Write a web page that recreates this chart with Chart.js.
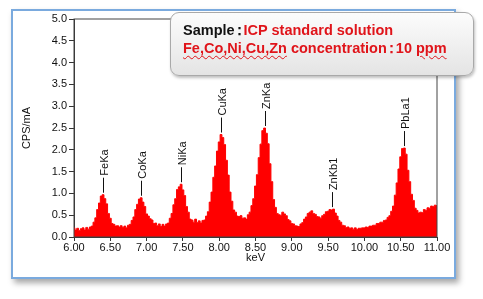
<!DOCTYPE html>
<html>
<head>
<meta charset="utf-8">
<script src="https://cdn.jsdelivr.net/npm/chart.js@4"></script>
<style>
  html, body { margin: 0; padding: 0; background: #fff; }
  body { width: 483px; height: 299px; position: relative; overflow: hidden; }
  #frame {
    position: absolute; left: 11px; top: 9px; width: 445px; height: 270px;
    box-sizing: border-box; border: 2px solid #7aaade; background: #fff;
    box-shadow: 3px 4px 6px rgba(0,0,0,0.35);
  }
  #spectrum { position: absolute; left: 0; top: 0; }
  #note {
    position: absolute; left: 170px; top: 12px; width: 304px; height: 64px;
    box-sizing: border-box; border: 1px solid #a9a9a9; border-radius: 9px;
    background: linear-gradient(#fcfcfc, #e4e4e4);
    box-shadow: 1px 2px 3px rgba(0,0,0,0.25);
    padding: 8px 0 0 12px;
    font: bold 14.5px "Liberation Sans", Arial, sans-serif; line-height: 18px;
    color: #e0141a; white-space: nowrap;
  }
  #note .blk { color: #111; }
  #note .col { margin: 0 -3px; }
  #note .wavy { text-decoration: underline wavy #e0141a; text-decoration-thickness: 1px; text-underline-offset: 2px; }
</style>
</head>
<body>
<div id="frame"></div>
<canvas id="spectrum" width="483" height="299"></canvas>
<div id="note">
  <div><span class="blk">Sample<span class="col">：</span></span>ICP standard solution</div>
  <div><span class="wavy">Fe,Co,Ni,Cu,Zn</span> concentration<span class="col">：</span>10 <span class="wavy">ppm</span></div>
</div>
<script>
// spectrum channels: 6.000 keV upward, 0.025 keV per channel
const channelStart = 6.0;
const channelWidth = 0.025;

// CPS/mA per channel, one row per 0.5 keV
const counts = [
  0.21, 0.16, 0.20, 0.15, 0.19, 0.21, 0.16, 0.22, 0.18, 0.23, 0.25, 0.34, 0.44, 0.63, 0.78, 0.94, 0.97, 0.88, 0.76, 0.54,
  0.43, 0.31, 0.29, 0.25, 0.26, 0.23, 0.26, 0.22, 0.25, 0.21, 0.27, 0.29, 0.38, 0.46, 0.63, 0.75, 0.87, 0.90, 0.80, 0.70,
  0.53, 0.48, 0.42, 0.39, 0.31, 0.32, 0.26, 0.30, 0.24, 0.29, 0.25, 0.30, 0.32, 0.43, 0.54, 0.74, 0.88, 1.09, 1.15, 1.21,
  1.08, 0.95, 0.70, 0.57, 0.41, 0.39, 0.34, 0.41, 0.33, 0.37, 0.32, 0.38, 0.39, 0.48, 0.58, 0.80, 1.03, 1.37, 1.63, 1.97,
  2.18, 2.35, 2.28, 2.12, 1.76, 1.42, 1.03, 0.82, 0.62, 0.57, 0.48, 0.47, 0.49, 0.43, 0.44, 0.41, 0.51, 0.57, 0.72, 0.88,
  1.17, 1.43, 1.82, 2.13, 2.44, 2.50, 2.38, 2.14, 1.68, 1.27, 0.86, 0.68, 0.54, 0.51, 0.50, 0.57, 0.53, 0.49, 0.40, 0.37,
  0.31, 0.30, 0.26, 0.25, 0.24, 0.30, 0.33, 0.41, 0.46, 0.54, 0.57, 0.60, 0.54, 0.52, 0.47, 0.46, 0.43, 0.49, 0.52, 0.58,
  0.59, 0.63, 0.62, 0.64, 0.55, 0.48, 0.38, 0.34, 0.27, 0.26, 0.22, 0.23, 0.20, 0.21, 0.18, 0.21, 0.17, 0.20, 0.20, 0.21,
  0.21, 0.23, 0.22, 0.25, 0.25, 0.27, 0.27, 0.31, 0.31, 0.34, 0.34, 0.38, 0.39, 0.45, 0.49, 0.59, 0.71, 0.96, 1.24, 1.56,
  1.84, 2.03, 2.04, 1.90, 1.53, 1.27, 0.98, 0.84, 0.66, 0.61, 0.55, 0.57, 0.56, 0.63, 0.61, 0.67, 0.66, 0.71, 0.70, 0.73,
  0.72
];

const peakLabels = ['FeKa', 'CoKa', 'NiKa', 'CuKa', 'ZnKa', 'ZnKb1', 'PbLa1'];
const peakKeV = [6.40, 6.925, 7.475, 8.025, 8.625, 9.55, 10.55];

const points = counts.map((v, i) => ({ x: channelStart + i * channelWidth, y: v }));

// outline of the plot box (top and right sides too)
const plotBox = {
  id: 'plotBox',
  afterDatasetsDraw(chart) {
    const { ctx, chartArea: a } = chart;
    ctx.save();
    ctx.strokeStyle = '#444';
    ctx.lineWidth = 1;
    ctx.strokeRect(a.left, a.top, a.right - a.left, a.bottom - a.top);
    ctx.restore();
  }
};

// vertical peak markers with rotated names
const peakMarks = {
  id: 'peakMarks',
  afterDatasetsDraw(chart) {
    const { ctx, scales: { x, y } } = chart;
    ctx.save();
    ctx.strokeStyle = '#111';
    ctx.fillStyle = '#111';
    ctx.lineWidth = 1;
    ctx.font = '11px "Liberation Sans", Arial, sans-serif';
    peakLabels.forEach((name, i) => {
      let top = 0;
      points.forEach(p => {
        if (Math.abs(p.x - peakKeV[i]) < 0.04 && p.y > top) top = p.y;
      });
      const px = Math.round(x.getPixelForValue(peakKeV[i])) + 0.5;
      const py = y.getPixelForValue(top) - 2;
      ctx.beginPath();
      ctx.moveTo(px, py);
      ctx.lineTo(px, py - 15);
      ctx.stroke();
      ctx.save();
      ctx.translate(px + 1.5, py - 17);
      ctx.rotate(-Math.PI / 2);
      ctx.textAlign = 'left';
      ctx.textBaseline = 'middle';
      ctx.fillText(name, 0, 0);
      ctx.restore();
    });
    ctx.restore();
  }
};

Chart.defaults.font.family = '"Liberation Sans", Arial, sans-serif';
Chart.defaults.font.size = 11;
Chart.defaults.color = '#111';

new Chart(document.getElementById('spectrum').getContext('2d'), {
  type: 'line',
  data: {
    datasets: [{
      data: points,
      borderColor: '#ff0000',
      backgroundColor: '#ff0000',
      borderWidth: 1,
      fill: 'origin',
      pointRadius: 0,
      stepped: 'middle'
    }]
  },
  options: {
    responsive: false,
    animation: false,
    layout: { padding: { left: 0, right: 46, top: 19, bottom: 32 } },
    plugins: { legend: { display: false }, tooltip: { enabled: false } },
    scales: {
      x: {
        type: 'linear',
        min: 6, max: 11,
        border: { color: '#333' },
        grid: { drawOnChartArea: false, color: '#333', tickLength: 4 },
        ticks: { stepSize: 0.5, padding: 0, maxRotation: 0, callback: v => v.toFixed(2) },
        title: { display: true, text: 'keV', padding: { top: 0, bottom: 2 } },
        afterFit: s => { s.height = 30; }
      },
      y: {
        min: 0, max: 5,
        border: { color: '#333' },
        grid: { drawOnChartArea: false, color: '#333', tickLength: 5 },
        ticks: { stepSize: 0.5, padding: 2, callback: v => v.toFixed(1) },
        title: { display: true, text: 'CPS/mA', padding: { top: 20, bottom: 0 } },
        afterFit: s => { s.width = 74; }
      }
    }
  },
  plugins: [plotBox, peakMarks]
});
</script>
</body>
</html>
